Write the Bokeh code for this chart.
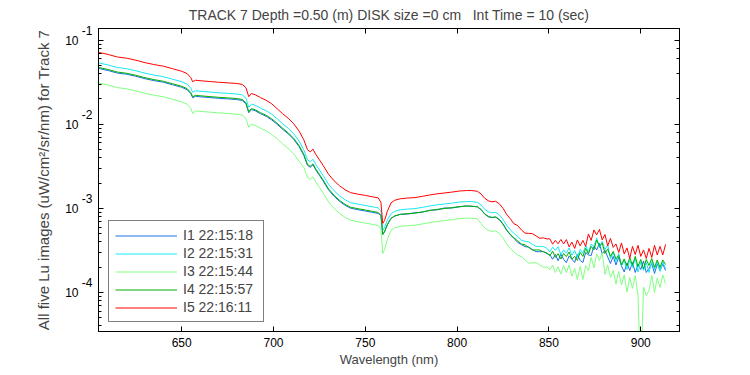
import numpy as np
from bokeh.plotting import figure
from bokeh.models import (LogAxis, LinearAxis, Legend, LegendItem, Range1d,
                          FixedTicker, CustomJSTickFormatter)
from bokeh.embed import file_html
from bokeh.resources import INLINE

# wavelength (nm)
wl = [605, 610, 615, 620, 625, 630, 635, 640, 645, 650, 653, 655, 656, 657.5, 660, 665, 670, 675, 680, 683,
      685, 686.5, 688, 690, 693, 696, 699, 702, 705, 708, 711, 714, 716.5, 718.5, 720, 721.5, 723, 725, 727, 730,
      733, 736, 739, 742, 746, 750, 754, 757, 758.5, 759.5, 760.5, 762, 764, 766, 769, 773, 777, 781, 785, 789,
      793, 797, 801, 805, 808, 811, 813, 815, 817, 819, 821, 823, 825, 827, 829, 831, 833, 835, 837, 839,
      841, 843, 845, 847, 849,
      850.5, 852, 853.5, 855, 856.5, 858, 859.5, 861, 862.5, 864, 865.5, 867, 868.5, 870, 871.5, 873, 874.5,
      876, 877.5, 879, 880.5, 882, 883.5, 885, 886.5, 888, 889.5, 891, 892.5, 894, 895.5, 897, 898.5, 900,
      901.5, 903, 904.5, 906, 907.5, 909, 910.5, 912, 913.5]

# log10 of Lu (uW/cm^2/sr/nm)
i1_log = [-1.337, -1.361, -1.391, -1.405, -1.429, -1.458, -1.481, -1.500, -1.530, -1.560,
          -1.589, -1.637, -1.685, -1.667, -1.673, -1.682, -1.691, -1.698, -1.706, -1.717,
          -1.756, -1.863, -1.825, -1.839, -1.875, -1.905, -1.947, -2.000, -2.060, -2.113,
          -2.179, -2.268, -2.369, -2.488, -2.512, -2.482, -2.542, -2.607, -2.673, -2.780,
          -2.857, -2.917, -2.964, -2.998, -3.016, -3.031, -3.048, -3.060, -3.083, -3.310,
          -3.280, -3.195, -3.119, -3.092, -3.071, -3.068, -3.052, -3.046, -3.022, -3.018,
          -2.995, -2.996, -2.983, -2.970, -2.977, -2.980, -3.015, -3.068, -3.100, -3.110,
          -3.105, -3.135, -3.190, -3.262, -3.316, -3.357, -3.405, -3.430, -3.455, -3.460,
          -3.490, -3.515, -3.515, -3.512, -3.540,
          -3.552, -3.604, -3.548, -3.623, -3.543, -3.607, -3.645, -3.565, -3.604, -3.643, -3.548, -3.619,
          -3.643, -3.524, -3.554, -3.560, -3.446, -3.494, -3.417, -3.542, -3.500, -3.577, -3.655, -3.571,
          -3.673, -3.583, -3.685, -3.756, -3.649, -3.738, -3.643, -3.762, -3.667, -3.726, -3.625, -3.762,
          -3.714, -3.655, -3.774, -3.661, -3.738, -3.661, -3.738]

i2_log = [-1.271, -1.295, -1.325, -1.339, -1.363, -1.392, -1.415, -1.434, -1.464, -1.494,
          -1.523, -1.571, -1.619, -1.601, -1.607, -1.616, -1.625, -1.632, -1.640, -1.651,
          -1.690, -1.797, -1.759, -1.773, -1.809, -1.839, -1.881, -1.934, -1.994, -2.047,
          -2.113, -2.202, -2.303, -2.422, -2.446, -2.416, -2.476, -2.541, -2.607, -2.714,
          -2.791, -2.851, -2.898, -2.932, -2.950, -2.965, -2.982, -2.994, -3.029, -3.262,
          -3.226, -3.136, -3.065, -3.035, -3.017, -3.008, -3.003, -2.988, -2.972, -2.958,
          -2.948, -2.938, -2.925, -2.919, -2.919, -2.928, -2.958, -3.011, -3.041, -3.053,
          -3.047, -3.077, -3.131, -3.202, -3.256, -3.297, -3.333, -3.380, -3.392, -3.398,
          -3.428, -3.452, -3.452, -3.455, -3.476,
          -3.517, -3.461, -3.500, -3.456, -3.549, -3.494, -3.532, -3.470, -3.556, -3.500, -3.583, -3.488,
          -3.536, -3.440, -3.524, -3.423, -3.458, -3.351, -3.470, -3.393, -3.488, -3.435, -3.601, -3.524,
          -3.631, -3.536, -3.685, -3.619, -3.726, -3.619, -3.702, -3.595, -3.756, -3.637, -3.738, -3.643,
          -3.762, -3.631, -3.726, -3.637, -3.750, -3.637, -3.714]

i3_log = [-1.510, -1.534, -1.564, -1.578, -1.602, -1.631, -1.654, -1.673, -1.703, -1.733,
          -1.762, -1.810, -1.872, -1.840, -1.846, -1.855, -1.864, -1.871, -1.879, -1.890,
          -1.929, -2.036, -1.998, -2.012, -2.048, -2.078, -2.120, -2.173, -2.233, -2.286,
          -2.352, -2.441, -2.512, -2.631, -2.655, -2.625, -2.685, -2.750, -2.816, -2.923,
          -3.000, -3.060, -3.107, -3.141, -3.159, -3.174, -3.191, -3.203, -3.248, -3.536,
          -3.488, -3.370, -3.262, -3.232, -3.214, -3.205, -3.200, -3.185, -3.169, -3.155,
          -3.145, -3.135, -3.122, -3.116, -3.116, -3.125, -3.179, -3.232, -3.262, -3.274,
          -3.268, -3.298, -3.352, -3.423, -3.477, -3.518, -3.554, -3.575, -3.613, -3.650,
          -3.649, -3.645, -3.673, -3.700, -3.697,
          -3.731, -3.675, -3.762, -3.694, -3.781, -3.679, -3.764, -3.673, -3.806, -3.714, -3.845, -3.690,
          -3.845, -3.679, -3.744, -3.583, -3.708, -3.542, -3.619, -3.530, -3.786, -3.673, -3.821, -3.738,
          -3.899, -3.750, -3.911, -3.792, -3.994, -3.821, -3.952, -3.798, -4.036, -5.000, -3.935, -4.036,
          -3.976, -3.798, -4.000, -3.827, -3.940, -3.792, -3.893]

i4_log = [-1.325, -1.349, -1.379, -1.393, -1.417, -1.446, -1.469, -1.488, -1.518, -1.548,
          -1.577, -1.625, -1.673, -1.655, -1.661, -1.670, -1.679, -1.686, -1.694, -1.705,
          -1.744, -1.851, -1.813, -1.827, -1.863, -1.893, -1.935, -1.988, -2.048, -2.101,
          -2.167, -2.256, -2.357, -2.476, -2.500, -2.470, -2.530, -2.595, -2.661, -2.768,
          -2.845, -2.905, -2.952, -2.986, -3.004, -3.019, -3.036, -3.048, -3.083, -3.310,
          -3.274, -3.190, -3.119, -3.089, -3.071, -3.062, -3.057, -3.042, -3.026, -3.012,
          -3.002, -2.992, -2.979, -2.973, -2.973, -2.982, -3.012, -3.065, -3.095, -3.107,
          -3.101, -3.131, -3.185, -3.256, -3.310, -3.351, -3.387, -3.423, -3.435, -3.464,
          -3.495, -3.494, -3.495, -3.518, -3.530,
          -3.564, -3.508, -3.583, -3.539, -3.602, -3.536, -3.574, -3.518, -3.604, -3.571, -3.619, -3.524,
          -3.571, -3.476, -3.542, -3.452, -3.494, -3.375, -3.452, -3.411, -3.536, -3.482, -3.571, -3.512,
          -3.601, -3.560, -3.673, -3.601, -3.685, -3.583, -3.679, -3.571, -3.690, -3.607, -3.720, -3.607,
          -3.679, -3.595, -3.702, -3.613, -3.702, -3.613, -3.667]

i5_log = [-1.146, -1.170, -1.200, -1.214, -1.238, -1.267, -1.290, -1.309, -1.339, -1.369,
          -1.398, -1.446, -1.494, -1.476, -1.482, -1.491, -1.500, -1.507, -1.515, -1.526,
          -1.565, -1.672, -1.634, -1.648, -1.684, -1.714, -1.756, -1.815, -1.875, -1.928,
          -1.994, -2.083, -2.184, -2.303, -2.327, -2.297, -2.357, -2.422, -2.488, -2.595,
          -2.672, -2.732, -2.779, -2.813, -2.831, -2.846, -2.863, -2.875, -2.928, -3.179,
          -3.143, -3.035, -2.934, -2.904, -2.886, -2.877, -2.872, -2.857, -2.841, -2.827,
          -2.817, -2.807, -2.794, -2.788, -2.788, -2.797, -2.827, -2.880, -2.910, -2.922,
          -2.916, -2.946, -3.000, -3.071, -3.125, -3.184, -3.205, -3.256, -3.295, -3.297,
          -3.300, -3.327, -3.355, -3.351, -3.363,
          -3.362, -3.425, -3.381, -3.420, -3.370, -3.423, -3.371, -3.458, -3.401, -3.476, -3.375, -3.446,
          -3.381, -3.452, -3.304, -3.381, -3.256, -3.315, -3.250, -3.375, -3.310, -3.446, -3.357, -3.464,
          -3.423, -3.524, -3.411, -3.542, -3.470, -3.595, -3.452, -3.548, -3.440, -3.571, -3.494, -3.595,
          -3.476, -3.583, -3.440, -3.554, -3.452, -3.554, -3.429]

labels = ["I1 22:15:18", "I2 22:15:31", "I3 22:15:44", "I4 22:15:57", "I5 22:16:11"]
colors = ["#1a70e0", "#19e8f5", "#80ff80", "#00b000", "#ff0000"]
series = [i1_log, i2_log, i3_log, i4_log, i5_log]
x_ticks = [650, 700, 750, 800, 850, 900]

FONT = "Liberation Sans"
X0, X1 = 604.7, 921.1
LY0, LY1 = -4.464, -0.861
SUP = 0.12  # raise of the exponent text, in decades (about 10 px)

p = figure(width=750, height=375, y_axis_type="log",
           x_range=Range1d(X0, X1), y_range=Range1d(10 ** LY0, 10 ** LY1),
           output_backend="svg", toolbar_location=None,
           min_border_left=98, min_border_right=71, min_border_top=28, min_border_bottom=44)
p.extra_y_ranges = {"sup": Range1d(10 ** (LY0 - SUP), 10 ** (LY1 - SUP))}
p.background_fill_color = "white"
p.border_fill_color = "white"
p.outline_line_color = "black"
p.xgrid.visible = False
p.ygrid.visible = False

p.title.text = "TRACK 7 Depth =0.50 (m) DISK size =0 cm\u00a0\u00a0 Int Time = 10 (sec)"
p.title.align = "center"
p.title.offset = 11
p.title.text_font = FONT
p.title.text_font_size = "14px"
p.title.text_font_style = "normal"
p.title.vertical_align = "middle"

renderers = []
for ys, c in zip(series, colors):
    r = p.line(wl, 10 ** np.array(ys), line_color=c, line_width=1)
    renderers.append(r)


def style_axis(ax):
    ax.axis_line_color = "black"
    ax.major_tick_line_color = "black"
    ax.minor_tick_line_color = "black"
    ax.major_tick_in = 5
    ax.major_tick_out = 0
    ax.minor_tick_in = 3
    ax.minor_tick_out = 0
    ax.major_label_text_font = FONT
    ax.major_label_text_font_size = "12px"
    ax.major_label_text_color = "black"
    ax.axis_label_text_font = FONT
    ax.axis_label_text_font_size = "14px"
    ax.axis_label_text_font_style = "normal"


def label_only(ax):
    ax.axis_line_color = None
    ax.major_tick_line_color = None
    ax.minor_tick_line_color = None
    ax.major_tick_in = 0
    ax.major_tick_out = 0
    ax.minor_tick_in = 0
    ax.minor_tick_out = 0


xa = p.xaxis[0]
style_axis(xa)
xa.ticker = FixedTicker(ticks=x_ticks, minor_ticks=[])
xa.axis_label = "Wavelength (nm)"
xa.axis_label_text_font_size = "13px"
xa.major_label_standoff = 6
xa.axis_label_standoff = 2

# frame-side y axis: ticks only
ya = p.yaxis[0]
style_axis(ya)
ya.formatter = CustomJSTickFormatter(code="return '';")
ya.major_label_standoff = 0

# exponent of each decade label, raised
ea = LogAxis(y_range_name="sup")
style_axis(ea)
label_only(ea)
ea.formatter = CustomJSTickFormatter(code="return String(Math.round(Math.log10(tick)));")
ea.major_label_standoff = 6
p.add_layout(ea, "left")

# base "10" of each decade label, carrying the axis title
ba = LogAxis()
style_axis(ba)
label_only(ba)
ba.formatter = CustomJSTickFormatter(code="return '10';")
ba.major_label_standoff = 0
ba.axis_label = "All five Lu images (uW/cm\u00b2/sr/nm) for Track 7"
ba.axis_label_text_font_size = "15px"
ba.axis_label_standoff = 10
p.add_layout(ba, "left")

ra = LogAxis()
style_axis(ra)
ra.major_label_text_font_size = "0px"
ra.major_label_text_alpha = 0
p.add_layout(ra, "right")

ta = LinearAxis(ticker=FixedTicker(ticks=x_ticks, minor_ticks=[]))
style_axis(ta)
ta.major_label_text_font_size = "0px"
ta.major_label_text_alpha = 0
ta.major_label_standoff = 0
p.add_layout(ta, "above")

legend = Legend(items=[LegendItem(label=l, renderers=[r]) for l, r in zip(labels, renderers)],
                location=(10, 9))
legend.border_line_color = "black"
legend.border_line_width = 1
legend.background_fill_color = "white"
legend.background_fill_alpha = 1
legend.label_text_font = FONT
legend.label_text_font_size = "14px"
legend.glyph_width = 62
legend.glyph_height = 15
legend.label_height = 15
legend.label_width = 74
legend.spacing = 2
legend.padding = 6
legend.margin = 0
legend.label_standoff = 6
p.add_layout(legend)

open("out.html", "w", encoding="utf-8").write(file_html(p, INLINE))
